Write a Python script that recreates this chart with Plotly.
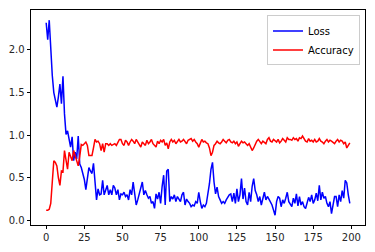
import plotly.graph_objects as go

epochs = list(range(200))

loss = [
    2.32, 2.12, 2.35, 1.95, 1.70, 1.50, 1.42, 1.33, 1.45, 1.60,
    1.37, 1.69, 1.25, 1.01, 1.05, 0.95, 0.86, 0.98, 0.70, 0.80,
    0.72, 0.99, 0.66, 0.62, 0.55, 0.48, 0.36, 0.50, 0.62, 0.58,
    0.55, 0.67, 0.45, 0.24, 0.37, 0.30, 0.31, 0.47, 0.30, 0.36,
    0.41, 0.30, 0.36, 0.30, 0.41, 0.38, 0.30, 0.36, 0.24, 0.31,
    0.30, 0.33, 0.28, 0.30, 0.24, 0.36, 0.30, 0.45, 0.28, 0.18,
    0.24, 0.31, 0.36, 0.45, 0.30, 0.35, 0.30, 0.26, 0.28, 0.20,
    0.22, 0.14, 0.31, 0.25, 0.33, 0.20, 0.40, 0.53, 0.18, 0.58,
    0.60, 0.22, 0.28, 0.25, 0.30, 0.22, 0.28, 0.25, 0.22, 0.30,
    0.33, 0.18, 0.25, 0.22, 0.20, 0.16, 0.18, 0.17, 0.22, 0.20,
    0.33, 0.22, 0.14, 0.18, 0.16, 0.20, 0.30, 0.43, 0.60, 0.68,
    0.45, 0.31, 0.39, 0.28, 0.24, 0.20, 0.22, 0.20, 0.24, 0.28,
    0.30, 0.31, 0.22, 0.32, 0.20, 0.37, 0.22, 0.30, 0.49, 0.25,
    0.38, 0.22, 0.18, 0.33, 0.22, 0.40, 0.49, 0.35, 0.30, 0.22,
    0.28, 0.18, 0.26, 0.33, 0.24, 0.28, 0.25, 0.22, 0.18, 0.12,
    0.06, 0.22, 0.28, 0.26, 0.16, 0.24, 0.20, 0.26, 0.33, 0.22,
    0.18, 0.16, 0.26, 0.20, 0.31, 0.17, 0.28, 0.18, 0.22, 0.16,
    0.14, 0.20, 0.27, 0.22, 0.30, 0.20, 0.24, 0.32, 0.23, 0.41,
    0.24, 0.33, 0.26, 0.28, 0.20, 0.16, 0.22, 0.08, 0.20, 0.28,
    0.28, 0.16, 0.30, 0.22, 0.35, 0.26, 0.47, 0.44, 0.30, 0.20,
]

accuracy = [
    0.12, 0.12, 0.13, 0.20, 0.45, 0.70, 0.68, 0.64, 0.50, 0.41,
    0.58, 0.57, 0.82, 0.70, 0.60, 0.80, 0.75, 0.70, 0.82, 0.75,
    0.70, 0.64, 0.75, 0.89, 0.88, 0.90, 0.92, 0.88, 0.76, 0.76,
    0.76, 0.85, 0.95, 0.92, 0.93, 0.90, 0.82, 0.90, 0.80, 0.90,
    0.90, 0.88, 0.90, 0.88, 0.89, 0.90, 0.88, 0.92, 0.95, 0.95,
    0.90, 0.88, 0.94, 0.92, 0.88, 0.92, 0.95, 0.93, 0.90, 0.95,
    0.92, 0.88, 0.86, 0.92, 0.90, 0.88, 0.94, 0.90, 0.92, 0.95,
    0.90, 0.88, 0.86, 0.93, 0.90, 0.94, 0.92, 0.95, 0.88, 0.91,
    0.84, 0.92, 0.95, 0.92, 0.94, 0.90, 0.92, 0.95, 0.92, 0.93,
    0.95, 0.92, 0.90, 0.94, 0.95, 0.96, 0.93, 0.95, 0.92, 0.90,
    0.86, 0.90, 0.95, 0.92, 0.93, 0.91, 0.90, 0.85, 0.76, 0.80,
    0.88, 0.90, 0.93, 0.91, 0.90, 0.92, 0.95, 0.93, 0.91, 0.94,
    0.95, 0.92, 0.91, 0.93, 0.90, 0.92, 0.87, 0.90, 0.93, 0.91,
    0.92, 0.90, 0.88, 0.90, 0.86, 0.82, 0.85, 0.90, 0.93, 0.95,
    0.92, 0.90, 0.93, 0.92, 0.90, 0.95, 0.97, 0.93, 0.92, 0.95,
    0.94, 0.92, 0.95, 0.91, 0.93, 0.96, 0.94, 0.92, 0.97, 0.95,
    0.95, 0.94, 0.97, 0.95, 0.96, 0.93, 0.97, 0.96, 0.99, 0.95,
    0.93, 0.92, 0.96, 0.93, 0.94, 0.92, 0.95, 0.92, 0.93, 0.96,
    0.93, 0.92, 0.90, 0.93, 0.95, 0.92, 0.94, 0.93, 0.92, 0.90,
    0.93, 0.95, 0.92, 0.94, 0.93, 0.90, 0.92, 0.85, 0.88, 0.91,
]

x_ticks = [0, 25, 50, 75, 100, 125, 150, 175, 200]
y_ticks = [0.0, 0.5, 1.0, 1.5, 2.0]

fig = go.Figure()
fig.add_trace(go.Scatter(x=epochs, y=loss, mode="lines", name="Loss",
                         line=dict(color="#0000ff", width=1.5)))
fig.add_trace(go.Scatter(x=epochs, y=accuracy, mode="lines", name="Accuracy",
                         line=dict(color="#ff0000", width=1.5)))

axis_common = dict(
    showline=True, linecolor="black", linewidth=0.8, mirror=True,
    ticks="outside", ticklen=3.5, tickwidth=0.8, tickcolor="black",
    showgrid=False, zeroline=False,
    tickfont=dict(family="DejaVu Sans", size=10, color="#262626"),
)

fig.update_layout(
    width=375, height=252,
    margin=dict(l=30, r=9, t=10, b=24),
    paper_bgcolor="white", plot_bgcolor="white",
    font=dict(family="DejaVu Sans", size=10, color="black"),
    xaxis=dict(range=[-9.95, 208.95], tickvals=x_ticks,
               ticktext=[str(v) for v in x_ticks], **axis_common),
    yaxis=dict(range=[-0.0545, 2.4695], tickvals=y_ticks,
               ticktext=[f"{v:.1f}" for v in y_ticks], **axis_common),
    legend=dict(x=0.985, y=0.975, xanchor="right", yanchor="top",
                bgcolor="rgba(255,255,255,0.8)", bordercolor="#cccccc",
                borderwidth=1, font=dict(family="DejaVu Sans", size=10),
                tracegroupgap=0, itemwidth=30),
    showlegend=True,
)

fig.write_html("out.html")
